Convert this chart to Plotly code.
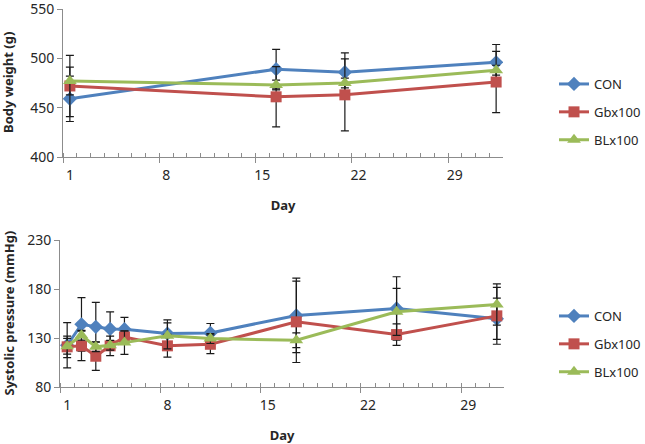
import plotly.graph_objects as go

# ---- data ----
GROUPS = ["CON", "Gbx100", "BLx100"]
COLORS = ["#4F81BD", "#C0504D", "#9BBB59"]
SYMBOLS = ["diamond", "square", "triangle-up"]
MARKER_SIZES = [11, 11, 12]

BW_DAYS = [1, 16, 21, 32]
BW_MEAN = {
    "CON": [459, 489, 486, 496],
    "Gbx100": [472, 461, 463, 476],
    "BLx100": [477, 473, 475, 488],
}
BW_SD = {
    "CON": [23, 20, 19.5, 18],
    "Gbx100": [31, 30.5, 36.5, 31],
    "BLx100": [14, 5, 5, 5],
}

SP_DAYS = [1, 2, 3, 4, 5, 8, 11, 17, 24, 31]
SP_MEAN = {
    "CON": [122.6, 144, 141.4, 139.3, 139, 134.5, 135.2, 153, 160.1, 149.6],
    "Gbx100": [121, 122, 111.4, 122, 131, 122, 123.6, 146.5, 133.5, 152.6],
    "BLx100": [121.6, 132.8, 121, 122.6, 125.3, 132.2, 129.4, 127.7, 156.7, 164.2],
}
SP_SD = {
    "CON": [23, 27.3, 25, 17.4, 12, 14, 9.6, 38, 32.4, 21],
    "Gbx100": [11, 15, 14.4, 10, 6, 11.6, 9.5, 41.5, 11, 29],
    "BLx100": [8, 5, 5, 5, 12, 13.3, 5, 7.5, 24, 21],
}

DAY_TICKS = [1, 8, 15, 22, 29]
BW_TICKS = [400, 450, 500, 550]
SP_TICKS = [80, 130, 180, 230]
Y_TITLES = ["Body weight (g)", "Systolic pressure (mmHg)"]

FONT = "Noto Sans"
AXIS_GRAY = "#8C8C8C"
TEXT = "#262626"
W, H = 645, 444


def px_x(p):
    return p / W


def px_y(p):
    return 1 - p / H


fig = go.Figure()

panels = [
    ("x", "y", "legend", BW_DAYS, BW_MEAN, BW_SD),
    ("x2", "y2", "legend2", SP_DAYS, SP_MEAN, SP_SD),
]
for xa, ya, leg, days, means, sds in panels:
    for i, g in enumerate(GROUPS):
        fig.add_trace(
            go.Scatter(
                x=days,
                y=means[g],
                name=g,
                mode="lines+markers",
                xaxis=xa,
                yaxis=ya,
                legend=leg,
                legendgroup=f"{leg}_{g}",
                line=dict(color=COLORS[i], width=3),
                marker=dict(symbol=SYMBOLS[i], size=MARKER_SIZES[i], color=COLORS[i]),
                error_y=dict(type="data", array=sds[g], color="#1a1a1a", thickness=1.2, width=4),
            )
        )

# empty traces so the overlay tick axes get drawn
fig.add_trace(go.Scatter(x=[], y=[], xaxis="x3", yaxis="y", showlegend=False, hoverinfo="skip"))
fig.add_trace(go.Scatter(x=[], y=[], xaxis="x4", yaxis="y2", showlegend=False, hoverinfo="skip"))


def day_axis(n_days, domain, anchor, standoff):
    return dict(
        domain=domain,
        anchor=anchor,
        automargin=False,
        range=[0.5, n_days + 0.5],
        tickvals=DAY_TICKS,
        ticks="",
        ticklabelstandoff=5,
        showgrid=False,
        zeroline=False,
        showline=True,
        linecolor=AXIS_GRAY,
        linewidth=1,
        tickfont=dict(size=14, color=TEXT),
        title=dict(text="<b>Day</b>", font=dict(size=13, color=TEXT), standoff=standoff),
        minor=dict(
            tickvals=[d + 0.5 for d in range(n_days)],
            ticks="inside",
            ticklen=4,
            tickcolor=AXIS_GRAY,
            showgrid=False,
        ),
    )


def boundary_axis(n_days, domain, over, anchor):
    return dict(
        domain=domain,
        anchor=anchor,
        overlaying=over,
        automargin=False,
        range=[0.5, n_days + 0.5],
        tickvals=[0.5 + 7 * k for k in range(n_days // 7 + 1)],
        ticks="outside",
        ticklen=5,
        tickcolor=AXIS_GRAY,
        showticklabels=False,
        showgrid=False,
        zeroline=False,
        showline=False,
    )


def value_axis(rng, ticks, domain, anchor):
    return dict(
        domain=domain,
        anchor=anchor,
        automargin=False,
        range=rng,
        tickvals=ticks,
        ticks="outside",
        ticklen=5,
        tickcolor=AXIS_GRAY,
        ticklabeloverflow="allow",
        showgrid=False,
        zeroline=False,
        showline=True,
        linecolor=AXIS_GRAY,
        linewidth=1,
        tickfont=dict(size=14, color=TEXT),
    )


top_x = [px_x(63), px_x(503)]
top_y = [px_y(157), px_y(9)]
bot_x = [px_x(60), px_x(504)]
bot_y = [px_y(387), px_y(240)]

legend_style = dict(
    font=dict(family=FONT, size=13, color=TEXT),
    bgcolor="rgba(0,0,0,0)",
    traceorder="grouped",
    tracegroupgap=8,
    itemwidth=30,
    xanchor="left",
    yanchor="middle",
)

fig.update_layout(
    width=W,
    height=H,
    margin=dict(l=0, r=0, t=0, b=0, autoexpand=False),
    paper_bgcolor="white",
    plot_bgcolor="white",
    font=dict(family=FONT, size=13, color=TEXT),
    xaxis=day_axis(32, top_x, "y", 18),
    yaxis=value_axis([400, 550], BW_TICKS, top_y, "x"),
    xaxis2=day_axis(31, bot_x, "y2", 20),
    yaxis2=value_axis([80, 230], SP_TICKS, bot_y, "x2"),
    xaxis3=boundary_axis(32, top_x, "x", "y"),
    xaxis4=boundary_axis(31, bot_x, "x2", "y2"),
    legend=dict(x=px_x(554), y=px_y(112), **legend_style),
    legend2=dict(x=px_x(554), y=px_y(344), **legend_style),
    showlegend=True,
)

# rotated y-axis titles at the far left, as in the reference
for title, dom in zip(Y_TITLES, [top_y, bot_y]):
    fig.add_annotation(
        text=f"<b>{title}</b>",
        xref="paper",
        yref="paper",
        x=px_x(8),
        y=(dom[0] + dom[1]) / 2,
        textangle=-90,
        showarrow=False,
        font=dict(size=13, color=TEXT),
        xanchor="center",
        yanchor="middle",
    )

# drop the default 8px body margin so the 645x444 figure fills the window
fig.write_html(
    "out.html",
    config={"displayModeBar": False},
    post_script="document.body.style.margin = '0';",
)
